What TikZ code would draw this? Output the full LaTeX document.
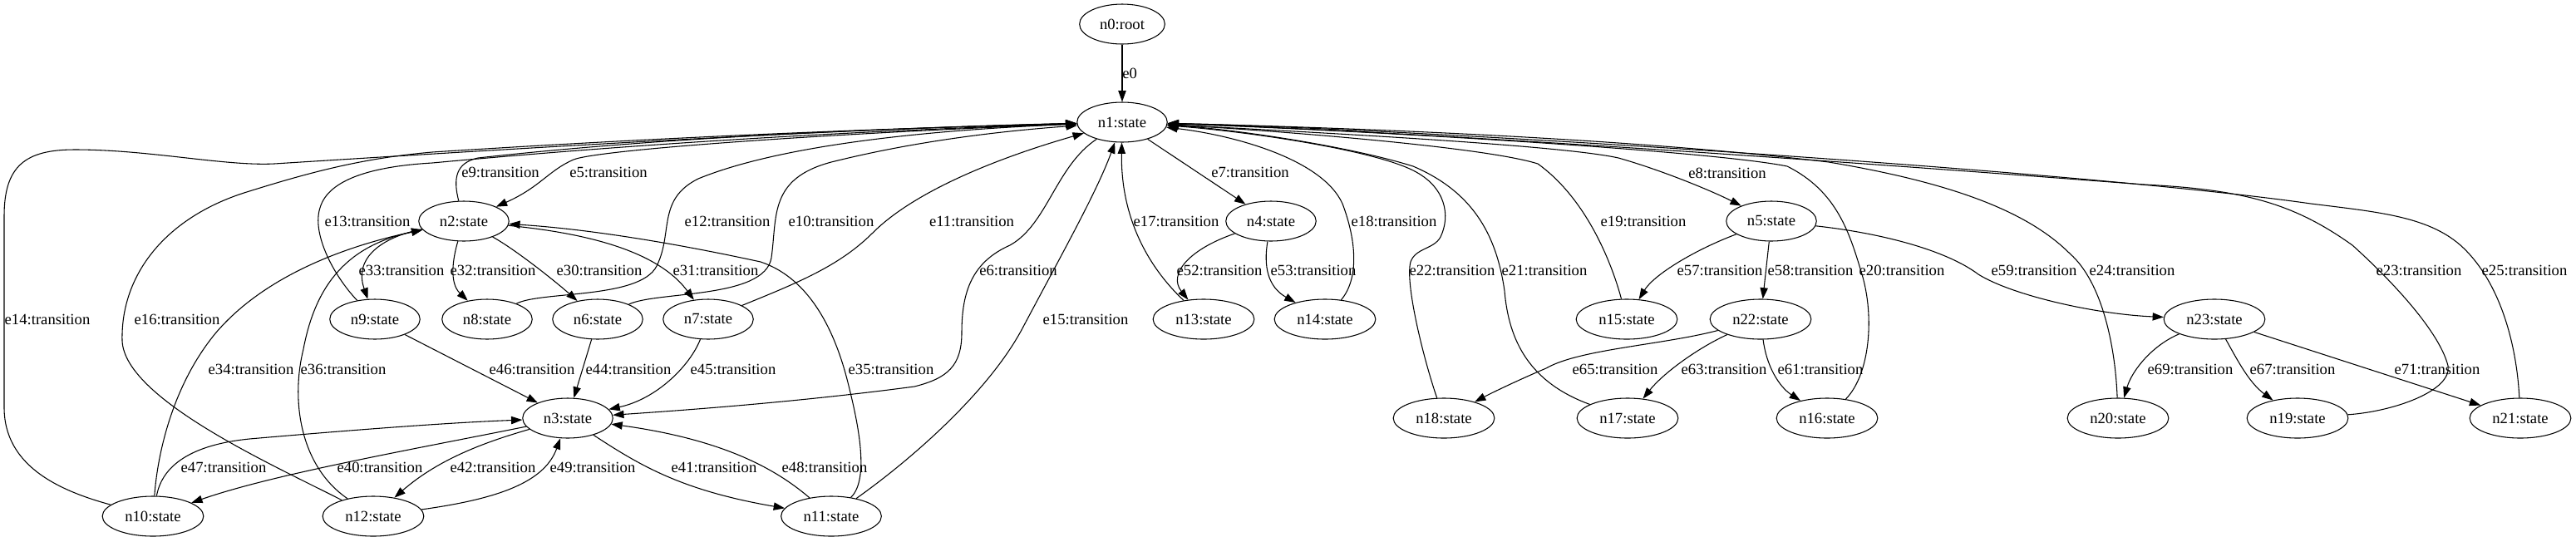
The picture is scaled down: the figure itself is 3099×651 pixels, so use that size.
\documentclass[tikz,border=0pt]{standalone}
\usepackage{fontspec}
\setmainfont{Liberation Serif}
\usetikzlibrary{arrows.meta,shapes.geometric}

\begin{document}
\begin{tikzpicture}[
    x=0.75pt, y=-0.75pt,
    >={Triangle[length=10pt,width=7pt]},
    vertex/.style={
      draw,
      ellipse,
      line width=0.8pt,
      inner xsep=7pt,
      inner ysep=2pt,
      minimum height=36pt,
      font=\fontsize{14}{16}\selectfont
    },
    edgelabel/.style={
      inner sep=0pt,
      font=\fontsize{14}{16}\selectfont
    },
    flow/.style={->, line width=0.8pt}
  ]
    \useasboundingbox (0,0) rectangle (3099,651);

    \node[vertex] (n0) at (1350,29) {n0:root};
    \node[vertex] (n1) at (1350,147) {n1:state};
    \node[vertex] (n2) at (558,266) {n2:state};
    \node[vertex] (n4) at (1529,266) {n4:state};
    \node[vertex] (n5) at (2131,266) {n5:state};
    \node[vertex] (n9) at (451,384) {n9:state};
    \node[vertex] (n8) at (586,384) {n8:state};
    \node[vertex] (n6) at (719,384) {n6:state};
    \node[vertex] (n7) at (852,384) {n7:state};
    \node[vertex] (n13) at (1448,384) {n13:state};
    \node[vertex] (n14) at (1594,384) {n14:state};
    \node[vertex] (n15) at (1957,384) {n15:state};
    \node[vertex] (n22) at (2118,384) {n22:state};
    \node[vertex] (n23) at (2664,384) {n23:state};
    \node[vertex] (n3) at (683,503) {n3:state};
    \node[vertex] (n18) at (1737,503) {n18:state};
    \node[vertex] (n17) at (1958,503) {n17:state};
    \node[vertex] (n16) at (2198,503) {n16:state};
    \node[vertex] (n20) at (2548,503) {n20:state};
    \node[vertex] (n19) at (2764,503) {n19:state};
    \node[vertex] (n21) at (3032,503) {n21:state};
    \node[vertex] (n10) at (184,621) {n10:state};
    \node[vertex] (n12) at (449,621) {n12:state};
    \node[vertex] (n11) at (1000,621) {n11:state};

    \node[edgelabel, anchor=west] (l0) at (1350,88) {e0};
    \node[edgelabel] (l5) at (732,207) {e5:transition};
    \node[edgelabel] (l9) at (602,207) {e9:transition};
    \node[edgelabel] (l7) at (1504,207) {e7:transition};
    \node[edgelabel] (l8) at (2078,208) {e8:transition};
    \node[edgelabel] (l13) at (442,266) {e13:transition};
    \node[edgelabel] (l12) at (875,266) {e12:transition};
    \node[edgelabel] (l10) at (1000,266) {e10:transition};
    \node[edgelabel] (l11) at (1169,266) {e11:transition};
    \node[edgelabel] (l17) at (1415,266) {e17:transition};
    \node[edgelabel] (l18) at (1677,266) {e18:transition};
    \node[edgelabel] (l19) at (1977,266) {e19:transition};
    \node[edgelabel] (l33) at (483,325) {e33:transition};
    \node[edgelabel] (l32) at (593,325) {e32:transition};
    \node[edgelabel] (l30) at (721,325) {e30:transition};
    \node[edgelabel] (l31) at (861,325) {e31:transition};
    \node[edgelabel] (l6) at (1225,325) {e6:transition};
    \node[edgelabel] (l52) at (1467,325) {e52:transition};
    \node[edgelabel] (l53) at (1580,325) {e53:transition};
    \node[edgelabel] (l22) at (1747,325) {e22:transition};
    \node[edgelabel] (l21) at (1858,325) {e21:transition};
    \node[edgelabel] (l57) at (2069,325) {e57:transition};
    \node[edgelabel] (l58) at (2178,325) {e58:transition};
    \node[edgelabel] (l20) at (2288,325) {e20:transition};
    \node[edgelabel] (l59) at (2447,325) {e59:transition};
    \node[edgelabel] (l24) at (2565,325) {e24:transition};
    \node[edgelabel] (l23) at (2910,325) {e23:transition};
    \node[edgelabel] (l25) at (3037,325) {e25:transition};
    \node[edgelabel] (l14) at (57,384) {e14:transition};
    \node[edgelabel] (l16) at (213,384) {e16:transition};
    \node[edgelabel] (l15) at (1306,384) {e15:transition};
    \node[edgelabel] (l34) at (302,444) {e34:transition};
    \node[edgelabel] (l36) at (413,444) {e36:transition};
    \node[edgelabel] (l46) at (640,444) {e46:transition};
    \node[edgelabel] (l44) at (756,444) {e44:transition};
    \node[edgelabel] (l45) at (882,444) {e45:transition};
    \node[edgelabel] (l35) at (1072,444) {e35:transition};
    \node[edgelabel] (l65) at (1943,444) {e65:transition};
    \node[edgelabel] (l63) at (2074,444) {e63:transition};
    \node[edgelabel] (l61) at (2190,444) {e61:transition};
    \node[edgelabel] (l69) at (2635,444) {e69:transition};
    \node[edgelabel] (l67) at (2758,444) {e67:transition};
    \node[edgelabel] (l71) at (2932,444) {e71:transition};
    \node[edgelabel] (l47) at (269,562) {e47:transition};
    \node[edgelabel] (l40) at (457,562) {e40:transition};
    \node[edgelabel] (l42) at (593,562) {e42:transition};
    \node[edgelabel] (l49) at (713,562) {e49:transition};
    \node[edgelabel] (l41) at (859,562) {e41:transition};
    \node[edgelabel] (l48) at (992,562) {e48:transition};

    \draw[flow] (n0) -- (n1);
    \draw[flow] (n1) .. controls (1000,160) and (720,180) .. (690,192) .. controls (660,205) and (650,225) .. (n2);
    \draw[flow] (n2) .. controls (545,215) and (548,196) .. (575,190) .. controls (800,165) and (1050,155) .. (n1);
    \draw[flow] (n9) .. controls (400,330) and (375,280) .. (385,250) .. controls (395,215) and (450,200) .. (520,196) .. controls (800,170) and (1050,157) .. (n1);
    \draw[flow] (n10) .. controls (70,590) and (5,560) .. (5,490) -- (5,260) .. controls (5,200) and (30,180) .. (90,180) .. controls (180,180) and (270,200) .. (330,197) .. controls (600,180) and (1000,155) .. (n1);
    \draw[flow] (n12) .. controls (330,560) and (150,480) .. (147,410) .. controls (145,330) and (200,260) .. (300,230) .. controls (380,205) and (440,190) .. (520,183) .. controls (800,165) and (1050,155) .. (n1);
    \draw[flow] (n8) .. controls (650,350) and (770,360) .. (790,320) .. controls (810,280) and (790,240) .. (840,215) .. controls (950,170) and (1150,155) .. (n1);
    \draw[flow] (n6) .. controls (790,350) and (920,360) .. (928,310) .. controls (935,260) and (925,215) .. (1000,195) .. controls (1100,170) and (1200,158) .. (n1);
    \draw[flow] (n7) .. controls (960,340) and (1010,320) .. (1050,280) .. controls (1100,230) and (1200,190) .. (n1);
    \draw[flow] (n1) .. controls (1270,200) and (1260,270) .. (1215,295) .. controls (1170,315) and (1157,350) .. (1157,400) .. controls (1157,440) and (1140,455) .. (1100,465) .. controls (950,485) and (800,495) .. (n3);
    \draw[flow] (n11) .. controls (1100,550) and (1190,470) .. (1230,395) .. controls (1275,310) and (1320,230) .. (n1);
    \draw[flow] (n13) .. controls (1380,320) and (1348,260) .. (n1);
    \draw[flow] (n1) -- (n4);
    \draw[flow] (n4) .. controls (1430,300) and (1405,330) .. (n13);
    \draw[flow] (n4) .. controls (1520,320) and (1525,345) .. (n14);
    \draw[flow] (n14) .. controls (1635,335) and (1632,290) .. (1615,245) .. controls (1590,190) and (1480,162) .. (n1);
    \draw[flow] (n1) .. controls (1600,160) and (1880,175) .. (1947,190) .. controls (2000,205) and (2060,230) .. (n5);
    \draw[flow] (n15) .. controls (1940,320) and (1910,240) .. (1850,197) .. controls (1780,175) and (1500,155) .. (n1);
    \draw[flow] (n18) .. controls (1712,430) and (1690,340) .. (1697,315) .. controls (1703,298) and (1725,300) .. (1733,285) .. controls (1745,260) and (1740,225) .. (1700,205) .. controls (1650,180) and (1500,158) .. (n1);
    \draw[flow] (n17) .. controls (1840,460) and (1815,410) .. (1810,350) .. controls (1800,280) and (1770,230) .. (1700,200) .. controls (1620,175) and (1480,155) .. (n1);
    \draw[flow] (n16) .. controls (2250,450) and (2255,380) .. (2240,330) .. controls (2225,280) and (2210,230) .. (2150,200) .. controls (2050,180) and (1600,155) .. (n1);
    \draw[flow] (n20) .. controls (2545,420) and (2530,340) .. (2490,305) .. controls (2440,255) and (2350,220) .. (2200,195) .. controls (1950,165) and (1600,153) .. (n1);
    \draw[flow] (n19) .. controls (2880,495) and (2950,470) .. (2945,440) .. controls (2935,400) and (2880,340) .. (2830,295) .. controls (2760,245) and (2700,228) .. (2579,222) .. controls (2100,185) and (1650,156) .. (n1);
    \draw[flow] (n21) .. controls (3028,420) and (3010,340) .. (2960,295) .. controls (2920,260) and (2860,255) .. (2780,245) .. controls (2500,205) and (1700,155) .. (n1);
    \draw[flow] (n5) .. controls (2040,300) and (1990,330) .. (n15);
    \draw[flow] (n5) -- (n22);
    \draw[flow] (n5) .. controls (2260,280) and (2340,300) .. (2380,330) .. controls (2420,355) and (2520,378) .. (n23);
    \draw[flow] (n22) .. controls (2000,415) and (1900,420) .. (1860,443) .. controls (1820,460) and (1790,475) .. (n18);
    \draw[flow] (n22) .. controls (2040,420) and (2000,450) .. (n17);
    \draw[flow] (n22) .. controls (2125,440) and (2140,465) .. (n16);
    \draw[flow] (n23) .. controls (2590,415) and (2565,445) .. (n20);
    \draw[flow] (n23) .. controls (2690,430) and (2705,460) .. (n19);
    \draw[flow] (n23) -- (n21);
    \draw[flow] (n2) .. controls (460,285) and (425,310) .. (n9);
    \draw[flow] (n2) .. controls (545,310) and (540,340) .. (n8);
    \draw[flow] (n2) .. controls (620,300) and (670,340) .. (n6);
    \draw[flow] (n2) .. controls (700,280) and (790,300) .. (n7);
    \draw[flow] (n10) .. controls (190,540) and (210,460) .. (260,400) .. controls (320,330) and (420,295) .. (n2);
    \draw[flow] (n12) .. controls (360,560) and (350,480) .. (365,420) .. controls (380,340) and (420,295) .. (n2);
    \draw[flow] (n11) .. controls (1048,575) and (1030,500) .. (1020,460) .. controls (1005,400) and (975,335) .. (915,315) .. controls (800,290) and (700,275) .. (n2);
    \draw[flow] (n9) -- (n3);
    \draw[flow] (n6) -- (n3);
    \draw[flow] (n7) .. controls (830,440) and (790,480) .. (n3);
    \draw[flow] (n10) .. controls (195,560) and (230,535) .. (300,528) .. controls (450,515) and (550,508) .. (n3);
    \draw[flow] (n3) .. controls (500,540) and (330,570) .. (n10);
    \draw[flow] (n3) .. controls (590,530) and (530,550) .. (n12);
    \draw[flow] (n12) .. controls (600,600) and (655,580) .. (n3);
    \draw[flow] (n3) .. controls (770,560) and (820,590) .. (n11);
    \draw[flow] (n11) .. controls (940,570) and (880,530) .. (n3);
  \end{tikzpicture}
\end{document}
